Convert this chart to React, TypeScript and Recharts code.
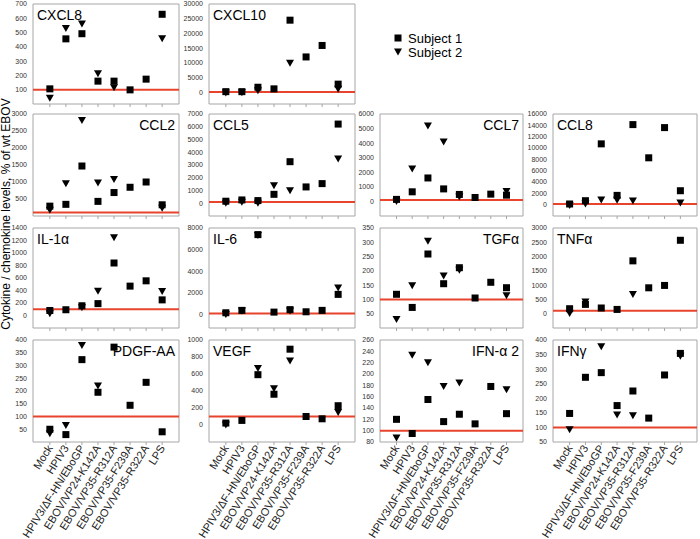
import React from "react";
import { ScatterChart, Scatter, XAxis, YAxis, ReferenceLine, ReferenceArea } from "recharts";

const categories = [
  "Mock",
  "HPIV3",
  "HPIV3/ΔF-HN/EboGP",
  "EBOV/VP24-K142A",
  "EBOV/VP35-R312A",
  "EBOV/VP35-F239A",
  "EBOV/VP35-R322A",
  "LPS",
];

// % of wt EBOV. S1 = Subject 1 (squares), S2 = Subject 2 (triangles).
// null = triangle sits under the square and can't be read
const cxcl8S1 = [106, 456, 492, 160, 160, 99, 174, 628];
const cxcl8S2 = [40, 529, 560, 212, 113, null, null, 456];
const cxcl10S1 = [200, 200, 1700, 1150, 24500, 12000, 15900, 2750];
const cxcl10S2 = [-300, -200, 500, null, 9840, null, null, 1000];
const ccl2S1 = [290, 343, 1470, 430, 690, 845, 1000, 330];
const ccl2S2 = [170, 950, 2810, 970, 1070, null, null, 230];
const ccl5S1 = [160, 260, 210, 700, 3260, 1280, 1540, 6210];
const ccl5S2 = [0, 80, 0, 1380, 990, null, null, 3470];
const ccl7S1 = [140, 660, 1610, 860, 480, 270, 500, 430];
const ccl7S2 = [0, 2230, 5180, 4070, 300, null, null, 680];
const ccl8S1 = [120, 700, 10730, 1640, 14130, 8270, 13600, 2460];
const ccl8S2 = [-150, 100, 820, 760, 650, null, null, 290];
const il1aS1 = [80, 92, 156, 190, 840, 470, 555, 250];
const il1aS2 = [27, null, 124, 390, 1245, null, null, 383];
const il6S1 = [160, 380, 7390, 220, 450, 250, 380, 1860];
const il6S2 = [0, 320, 7300, null, 320, null, null, 2460];
const tgfaS1 = [118, 72, 259, 155, 211, 105, 160, 141];
const tgfaS2 = [30, 148, 304, 182, 202, null, null, 113];
const tnfaS1 = [175, 326, 200, 150, 1850, 907, 990, 2570];
const tnfaS2 = [10, 407, null, null, 675, null, null, null];
const pdgfS1 = [50, 29, 323, 195, 372, 144, 234, 40];
const pdgfS2 = [32, 65, 378, 220, null, null, null, null];
const vegfS1 = [23, 54, 592, 362, 892, 100, 73, 227];
const vegfS2 = [0, null, 665, 427, 754, null, null, 146];
const ifna2S1 = [120, 95, 155, 116, 129, 112, 178, 130];
const ifna2S2 = [87, 233, 220, 178, 184, null, null, 172];
const ifngS1 = [148, 272, 288, 175, 225, 132, 280, 354];
const ifngS2 = [92, null, 377, 143, 140, null, null, 344];

const cxcl8Ticks = [100, 200, 300, 400, 500, 600, 700];
const cxcl10Ticks = [0, 5000, 10000, 15000, 20000, 25000, 30000];
const ccl2Ticks = [500, 1000, 1500, 2000, 2500, 3000];
const ccl5Ticks = [0, 1000, 2000, 3000, 4000, 5000, 6000, 7000];
const ccl7Ticks = [0, 1000, 2000, 3000, 4000, 5000, 6000];
const ccl8Ticks = [0, 2000, 4000, 6000, 8000, 10000, 12000, 14000, 16000];
const il1aTicks = [0, 200, 400, 600, 800, 1000, 1200, 1400];
const il6Ticks = [0, 2000, 4000, 6000, 8000];
const tgfaTicks = [50, 100, 150, 200, 250, 300, 350];
const tnfaTicks = [0, 500, 1000, 1500, 2000, 2500, 3000];
const pdgfTicks = [50, 100, 150, 200, 250, 300, 350, 400];
const vegfTicks = [0, 200, 400, 600, 800, 1000];
const ifna2Ticks = [80, 100, 120, 140, 160, 180, 200, 220, 240, 260];
const ifngTicks = [50, 100, 150, 200, 250, 300, 350, 400];

type PanelDef = {
  title: string;
  s1: (number | null)[];
  s2: (number | null)[];
  domain: [number, number];
  ticks: number[];
  row: number;
  col: number;
  titleRight?: boolean;
};

const panels: PanelDef[] = [
  { title: "CXCL8", s1: cxcl8S1, s2: cxcl8S2, domain: [0, 700], ticks: cxcl8Ticks, row: 0, col: 0 },
  { title: "CXCL10", s1: cxcl10S1, s2: cxcl10S2, domain: [-4000, 30000], ticks: cxcl10Ticks, row: 0, col: 1 },
  { title: "CCL2", s1: ccl2S1, s2: ccl2S2, domain: [0, 3000], ticks: ccl2Ticks, row: 1, col: 0, titleRight: true },
  { title: "CCL5", s1: ccl5S1, s2: ccl5S2, domain: [-1000, 7000], ticks: ccl5Ticks, row: 1, col: 1 },
  { title: "CCL7", s1: ccl7S1, s2: ccl7S2, domain: [-1000, 6000], ticks: ccl7Ticks, row: 1, col: 2, titleRight: true },
  { title: "CCL8", s1: ccl8S1, s2: ccl8S2, domain: [-2000, 16000], ticks: ccl8Ticks, row: 1, col: 3 },
  { title: "IL-1α", s1: il1aS1, s2: il1aS2, domain: [-200, 1400], ticks: il1aTicks, row: 2, col: 0 },
  { title: "IL-6", s1: il6S1, s2: il6S2, domain: [-1250, 8000], ticks: il6Ticks, row: 2, col: 1 },
  { title: "TGFα", s1: tgfaS1, s2: tgfaS2, domain: [0, 350], ticks: tgfaTicks, row: 2, col: 2, titleRight: true },
  { title: "TNFα", s1: tnfaS1, s2: tnfaS2, domain: [-500, 3000], ticks: tnfaTicks, row: 2, col: 3 },
  { title: "PDGF-AA", s1: pdgfS1, s2: pdgfS2, domain: [0, 400], ticks: pdgfTicks, row: 3, col: 0, titleRight: true },
  { title: "VEGF", s1: vegfS1, s2: vegfS2, domain: [-200, 1000], ticks: vegfTicks, row: 3, col: 1 },
  { title: "IFN-α 2", s1: ifna2S1, s2: ifna2S2, domain: [80, 260], ticks: ifna2Ticks, row: 3, col: 2, titleRight: true },
  { title: "IFNγ", s1: ifngS1, s2: ifngS2, domain: [50, 400], ticks: ifngTicks, row: 3, col: 3 },
];

const colLeft = [33, 209, 380, 553];
const colWidth = [146, 146, 143, 144];
const rowTop = [4, 114, 228, 340];
const rowHeight = [100, 102, 100, 102];

const FONT = "'Liberation Sans', Arial, sans-serif";
const FRAME = "#a6a6a6";
const RED = "#e8432c";
const X_DOMAIN: [number, number] = [-1.05, 8.05];
const X_TICKS = [0, 1, 2, 3, 4, 5, 6, 7];

const toPoints = (vals: (number | null)[]) =>
  vals.map((v, i) => ({ x: i, y: v })).filter((p) => p.y !== null);

const Square = (p: any) => (
  <rect x={p.cx - 3.5} y={p.cy - 3.5} width={7} height={7} fill="#000" />
);

const TriDown = (p: any) => (
  <path
    d={`M${p.cx - 4},${p.cy - 3.5}L${p.cx + 4},${p.cy - 3.5}L${p.cx},${p.cy + 3.5}Z`}
    fill="#000"
  />
);

const NoTick = () => <g />;

const RotTick = (props: any) => {
  const { x, y, payload } = props;
  return (
    <text
      x={x}
      y={y - 1}
      transform={`rotate(-58 ${x} ${y - 1})`}
      textAnchor="end"
      dy="0.35em"
      fontSize={11}
      fontFamily={FONT}
      fill="#222"
    >
      {categories[payload.value]}
    </text>
  );
};

function Panel({ p }: { p: PanelDef }) {
  const left = colLeft[p.col];
  const top = rowTop[p.row];
  const w = colWidth[p.col];
  const h = rowHeight[p.row];
  const bottomRow = p.row === 3;
  const YW = 40;
  const MT = 6;
  const MR = 6;
  const xh = bottomRow ? 100 : 6;

  return (
    <>
      <div style={{ position: "absolute", left: left - YW, top: top - MT }}>
        <ScatterChart
          width={YW + w + MR}
          height={MT + h + xh}
          margin={{ top: MT, right: MR, bottom: 0, left: 0 }}
        >
          <XAxis
            type="number"
            dataKey="x"
            domain={X_DOMAIN}
            ticks={X_TICKS}
            allowDataOverflow
            interval={0}
            height={xh}
            axisLine={false}
            tickLine={{ stroke: FRAME }}
            tickSize={3}
            tickMargin={2}
            tick={bottomRow ? RotTick : NoTick}
          />
          <YAxis
            type="number"
            dataKey="y"
            domain={p.domain}
            ticks={p.ticks}
            allowDataOverflow
            interval={0}
            width={YW}
            axisLine={false}
            tickLine={false}
            tickSize={4}
            tickMargin={2}
            tick={{ fontSize: 7, fill: "#333", fontFamily: FONT }}
          />
          <ReferenceArea
            x1={X_DOMAIN[0]}
            x2={X_DOMAIN[1]}
            y1={p.domain[0]}
            y2={p.domain[1]}
            fill="none"
            stroke={FRAME}
            strokeWidth={1}
            ifOverflow="visible"
          />
          <ReferenceLine y={100} stroke={RED} strokeWidth={2} />
          <Scatter data={toPoints(p.s2)} shape={TriDown} isAnimationActive={false} />
          <Scatter data={toPoints(p.s1)} shape={Square} isAnimationActive={false} />
        </ScatterChart>
      </div>
      <div
        style={{
          position: "absolute",
          top: top + 4,
          left: p.titleRight ? undefined : left + 4,
          width: p.titleRight ? w - 4 : undefined,
          textAlign: p.titleRight ? "right" : "left",
          marginLeft: p.titleRight ? left : 0,
          fontFamily: FONT,
          fontSize: 14,
          lineHeight: "14px",
          color: "#000",
          whiteSpace: "nowrap",
        }}
      >
        {p.title}
      </div>
    </>
  );
}

export default function App() {
  return (
    <div
      style={{
        position: "absolute",
        left: 0,
        top: 0,
        width: 700,
        height: 539,
        overflow: "hidden",
        background: "#fff",
      }}
    >
      <svg style={{ position: "absolute", left: 0, top: 0 }} width={20} height={539}>
        <text
          transform="rotate(-90)"
          x={-214}
          y={10}
          textAnchor="middle"
          fontSize={12}
          fontFamily={FONT}
          fill="#000"
        >
          Cytokine / chemokine levels, % of wt EBOV
        </text>
      </svg>
      {panels.map((p) => (
        <Panel key={p.title} p={p} />
      ))}
      <svg style={{ position: "absolute", left: 390, top: 28 }} width={90} height={34}>
        <rect x={4.5} y={6.5} width={7} height={7} fill="#000" />
        <text x={18} y={14.6} fontSize={13} fontFamily={FONT} fill="#000">
          Subject 1
        </text>
        <path d="M4,20.5L12,20.5L8,27.5Z" fill="#000" />
        <text x={18} y={28.6} fontSize={13} fontFamily={FONT} fill="#000">
          Subject 2
        </text>
      </svg>
    </div>
  );
}
